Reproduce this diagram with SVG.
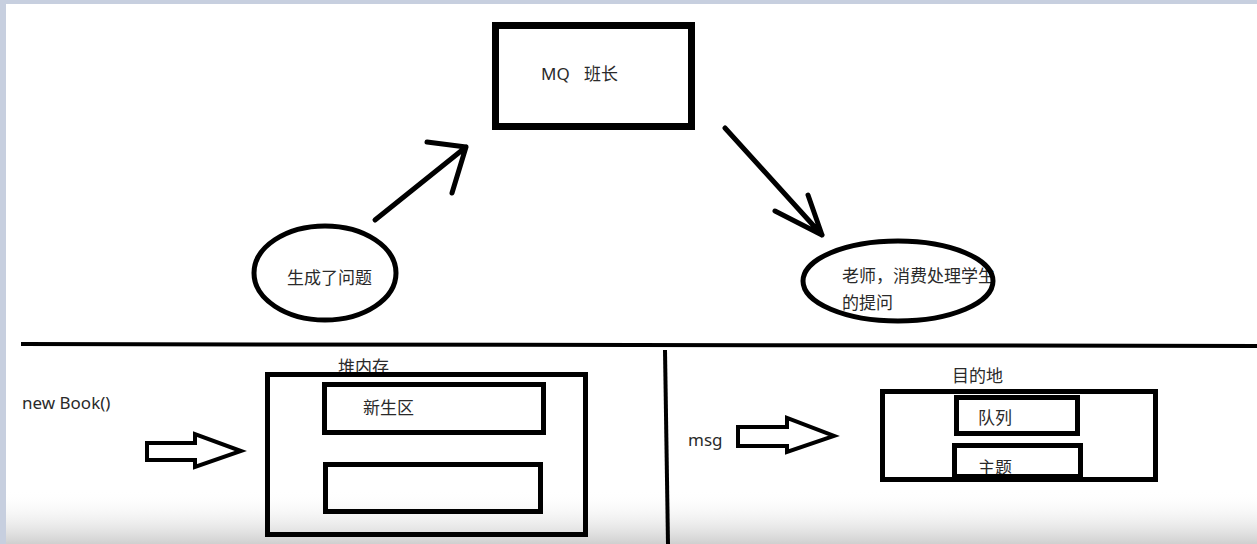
<svg xmlns="http://www.w3.org/2000/svg" width="1257" height="544" viewBox="0 0 1257 544">
<defs>
<linearGradient id="shade" x1="0" y1="0" x2="0" y2="1">
<stop offset="0" stop-color="#ffffff" stop-opacity="0"/>
<stop offset="1" stop-color="#cfcfcf" stop-opacity="1"/>
</linearGradient>
<style>
.t{font-family:"Noto Sans","Noto Sans CJK SC",sans-serif;font-size:17px;fill:#2a2a2a}
.box{fill:none;stroke:#000;stroke-width:5}
.thick{fill:none;stroke:#000;stroke-width:7}
.line{fill:none;stroke:#000;stroke-width:5;stroke-linecap:round;stroke-linejoin:round}
.hollow{fill:#fff;stroke:#000;stroke-width:4;stroke-linejoin:miter}
</style>
</defs>
<rect x="0" y="0" width="1257" height="544" fill="#ffffff"/>
<rect x="0" y="490" width="1257" height="54" fill="url(#shade)"/>
<rect x="0" y="0" width="1257" height="4" fill="#c7cfdf"/>
<rect x="0" y="0" width="6" height="544" fill="#c7cfdf"/>

<g id="mq">
<rect class="thick" x="495.5" y="25.5" width="196" height="101"/>
<text class="t" x="541" y="80">MQ</text>
<text class="t" x="584" y="80">班长</text>
</g>

<g id="producer">
<text class="t" x="287" y="284">生成了问题</text>
<ellipse class="box" cx="325" cy="273" rx="71" ry="47"/>
</g>

<g id="consumer">
<text class="t" x="842" y="282">老师，消费处理学生</text>
<text class="t" x="842" y="309">的提问</text>
<ellipse class="box" cx="898" cy="281" rx="95" ry="40"/>
</g>

<g id="connectors">
<path class="line" d="M375,220 L466,147 M427,142 L466,147 L452,193"/>
<path class="line" d="M725,128 L822,235 M775,211 L822,235 L808,195"/>
<path d="M21,344 L1257,346" stroke="#000" stroke-width="4" fill="none"/>
<path d="M665,350 L668,544" stroke="#000" stroke-width="4" fill="none"/>
<polygon class="hollow" points="147,443 195,443 195,434 241,451 195,467 195,460 147,460"/>
<polygon class="hollow" points="738,427 787,427 787,418 834,436 787,452 787,446 738,446"/>
</g>

<g id="newbook">
<text class="t" x="22" y="409">new Book()</text>
</g>

<g id="heap">
<text class="t" x="338" y="373">堆内存</text>
<rect class="box" x="267.5" y="374.5" width="318" height="160" fill="#fff"/>
</g>

<g id="young">
<rect class="box" x="324.5" y="384.5" width="219" height="48"/>
<text class="t" x="363" y="414">新生区</text>
</g>

<g id="old">
<rect class="box" x="325.5" y="464.5" width="215" height="47"/>
</g>

<g id="msg">
<text class="t" x="688" y="446">msg</text>
</g>

<g id="dest">
<text class="t" x="952" y="382">目的地</text>
<rect class="box" x="882.5" y="391.5" width="273" height="88"/>
</g>

<g id="queue">
<rect class="box" x="956.5" y="397.5" width="121" height="36"/>
<text class="t" x="978" y="424">队列</text>
</g>

<g id="topic">
<text class="t" x="978" y="474">主题</text>
<rect class="box" x="954.5" y="445.5" width="126" height="31"/>
<rect x="880" y="477" width="278" height="5" fill="#000"/>
</g>
</svg>
